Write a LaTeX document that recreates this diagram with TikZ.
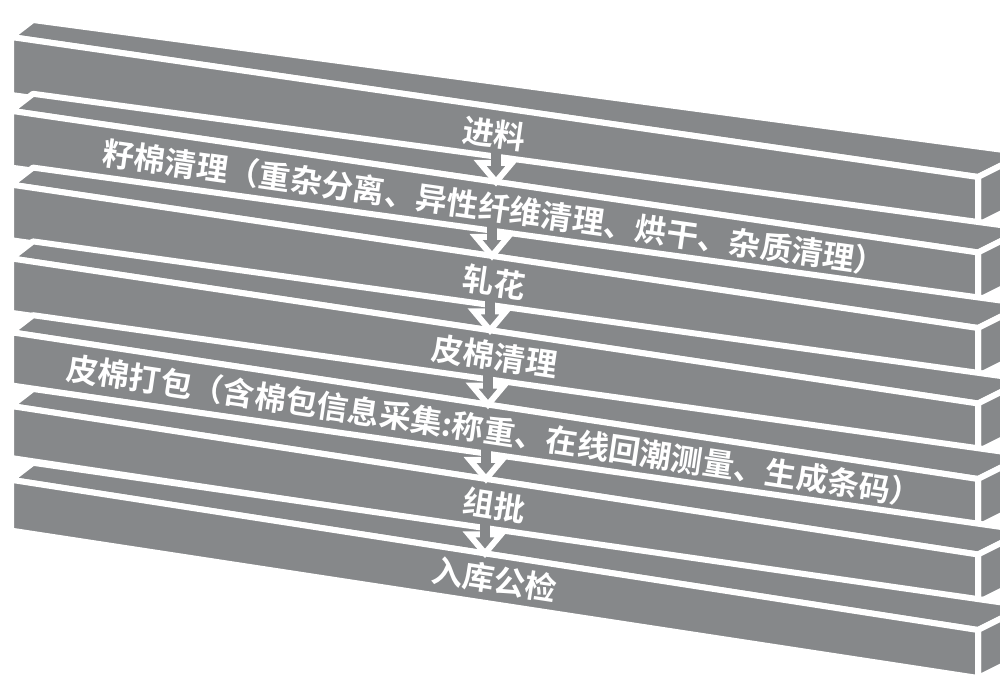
\documentclass[tikz,border=0pt]{standalone}
\usepackage{fontspec}
\usetikzlibrary{calc}
\IfFontExistsTF{Noto Sans CJK SC Bold}{\newfontfamily\cjkb{Noto Sans CJK SC Bold}}{\newfontfamily\cjkb{Noto Sans CJK SC}[FakeBold=1.5]}
\definecolor{bargray}{RGB}{134,136,138}
\begin{document}
\begin{tikzpicture}[x=0.3mm,y=-0.3mm,
  face/.style={fill=bargray, draw=white, line width=1.8mm, line join=round},
  arrowfill/.style={fill=bargray},
  arrowline/.style={draw=white, line width=1.8mm, line join=miter},
  lab/.style={text=white, font=\cjkb\fontsize{27}{30}\selectfont, inner sep=0pt}]
\useasboundingbox (0,0) rectangle (1000,675);
\clip (0,0) rectangle (1000,675);
\fill[white] (0,0) rectangle (1000,675);
\foreach \i in {0,...,6} {
  \pgfmathsetmacro\lt{37+73.8*\i}
  \pgfmathsetmacro\lb{95+72.6*\i}
  \pgfmathsetmacro\rt{177+75.5*\i}
  \pgfmathsetmacro\rb{225+75.5*\i}
  \coordinate (LT\i) at (11,\lt);
  \coordinate (LB\i) at (11,\lb);
  \coordinate (RT\i) at (978,\rt);
  \coordinate (RB\i) at (978,\rb);
  \coordinate (CL\i) at (11,{(\lt+\lb)/2});
  \coordinate (CR\i) at (978,{(\rt+\rb)/2});
  \draw[face] (LT\i) -- ++(22,-17) -- ($(RT\i)+(48,-24)$) -- (RT\i) -- cycle;
  \draw[face] (RT\i) -- ++(48,-24) -- ($(RB\i)+(48,-24)$) -- (RB\i) -- cycle;
  \draw[face] (LT\i) -- (RT\i) -- (RB\i) -- (LB\i) -- cycle;
}
% arrows between consecutive bars
\foreach \i/\x in {1/496,2/492,3/490,4/488,5/486,6/485} {
  \coordinate (T\i) at ($(LT\i)!{(\x-11)/967}!(RT\i)$);
  \fill[arrowfill] ($(T\i)+(-16,-19)$) -- (T\i) -- ($(T\i)+(16,-19)$) -- cycle;
  \draw[arrowline] ($(T\i)+(-5,-19)$) -- ($(T\i)+(-16,-19)$) -- (T\i) -- ($(T\i)+(16,-19)$) -- ($(T\i)+(5,-19)$);
  \fill[arrowfill] ($(T\i)+(-5,-45)$) rectangle ($(T\i)+(5,-14)$);
}
\path (CL0) -- (CR0) node[lab, midway, sloped] (t0) {进料};
\path (CL1) -- (CR1) node[lab, midway, sloped] (t1) {籽棉清理（重杂分离、异性纤维清理、烘干、杂质清理）};
\path (CL2) -- (CR2) node[lab, midway, sloped] (t2) {轧花};
\path (CL3) -- (CR3) node[lab, midway, sloped] (t3) {皮棉清理};
\path (CL4) -- (CR4) node[lab, midway, sloped] (t4) {皮棉打包（含棉包信息采集:称重、在线回潮测量、生成条码）};
\path (CL5) -- (CR5) node[lab, midway, sloped] (t5) {组批};
\path (CL6) -- (CR6) node[lab, midway, sloped] (t6) {入库公检};
\end{tikzpicture}
\end{document}
